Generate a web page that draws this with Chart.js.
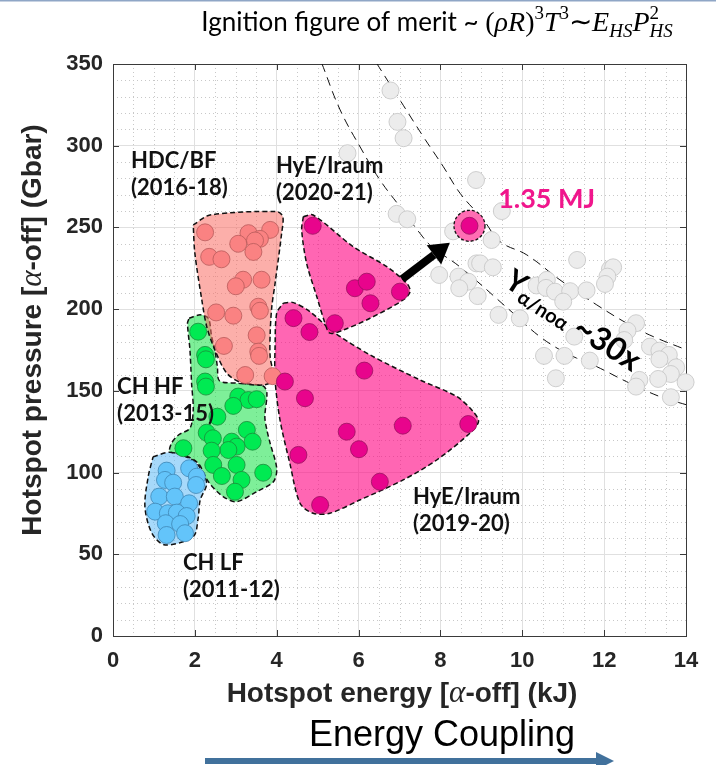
<!DOCTYPE html>
<html>
<head>
<meta charset="utf-8">
<script src="https://cdn.jsdelivr.net/npm/chart.js@4.4.1/dist/chart.umd.min.js"></script>
<style>
  html, body { margin: 0; padding: 0; background: #fff; }
</style>
</head>
<body>
<canvas id="chart" width="716" height="765"></canvas>
<script>
// hotspot energy (kJ) vs hotspot pressure (Gbar), alpha-off
const xTicks = [0, 2, 4, 6, 8, 10, 12, 14];
const yTicks = [0, 50, 100, 150, 200, 250, 300, 350];

const chLF = [[1.86, 102.6], [1.31, 101.2], [1.27, 95.5], [1.47, 93.8], [2.05, 97.5], [2.03, 92.4],
  [1.13, 85.3], [1.51, 85.3], [1.86, 81.2], [1.03, 76.1], [1.34, 75.1], [1.56, 75.5], [1.80, 73.4],
  [1.29, 69.0], [1.64, 68.5], [1.76, 62.9], [1.31, 61.8]];

const chHF = [[2.08, 186.2], [2.25, 172], [2.27, 169.3], [2.25, 155.7], [2.27, 152.6], [3.06, 146.5],
  [3.31, 144.4], [3.51, 144.9], [2.94, 140.8], [2.55, 134.2], [3.27, 126.1], [2.29, 124.4], [2.44, 121],
  [3.41, 118.9], [2.9, 118.9], [3.02, 115.9], [2.82, 113.8], [2.41, 113.4], [1.72, 114.9], [2.45, 104.7],
  [3.02, 104.7], [2.66, 97.9], [3.14, 95.5], [3.67, 99.9], [2.98, 88.3]];

const hdcBF = [[2.25, 247], [3.31, 246.5], [3.84, 248.5], [3.06, 240], [3.59, 243], [3.47, 242],
  [3.43, 235], [2.35, 232], [2.65, 230.5], [3.18, 218], [3.0, 214], [3.63, 218], [2.52, 198], [2.94, 196],
  [3.55, 201.5], [3.59, 199], [3.51, 184], [2.71, 177.5], [3.55, 174], [3.57, 171.4], [3.23, 159.7], [3.9, 159]];

const hyE1920 = [[4.41, 194.5], [4.8, 186], [6.14, 162.4], [4.2, 155.7], [4.69, 145.5], [5.71, 125],
  [7.08, 128.7], [8.68, 129.7], [6.01, 114.3], [4.53, 110.8], [6.52, 94.4], [5.06, 80.2]];

const hyE2021 = [[4.88, 251], [5.91, 212.8], [6.2, 216.8], [6.29, 203.6], [7.01, 210.7], [5.42, 191.4]];

const shot135 = [[8.71, 251]];

// projected alpha-on shots (grey)
const alphaOn = [[6.78, 333.8], [6.95, 314.6], [7.1, 304.6], [5.73, 295.4], [8.87, 279], [6.93, 258.3],
  [7.19, 255], [9.5, 260], [8.31, 247.6], [9.25, 242.3], [8.88, 228], [8.97, 228], [9.28, 225.6],
  [7.97, 220.9], [8.44, 219.9], [8.68, 216.8], [8.46, 212.8], [8.91, 208], [11.34, 230.1], [12.14, 224.4],
  [12.22, 225.6], [12.08, 219.9], [12.02, 215.4], [10.35, 214.5], [10.6, 217.9], [10.58, 213], [10.8, 210.7],
  [11.17, 211], [11.57, 211.5], [11.0, 204.6], [9.42, 196.5], [9.94, 194.4], [11.27, 183.2], [10.53, 171.4],
  [11.03, 171.4], [11.65, 168.5], [10.82, 157.7], [12.78, 191.4], [12.57, 186.8], [12.49, 181.1],
  [13.12, 177.1], [13.35, 174.6], [13.58, 172], [13.35, 169.3], [13.76, 164.4], [13.63, 160.3],
  [13.99, 155.3], [13.32, 157.3], [12.86, 156.7], [12.78, 152.6], [13.63, 146.1]];

// outlines around each campaign
const chLFOutline = [[0.98, 109.7], [1.39, 112.4], [1.88, 108.7], [2.08, 104.7], [2.29, 93.5], [2.13, 83.2],
  [2.08, 72], [1.96, 60.8], [1.27, 55.7], [0.95, 62.9], [0.78, 79.1], [0.86, 97.5]];

const chHFOutline = [[1.86, 194.4], [2.13, 196.5], [2.33, 194.4], [2.41, 183.2], [2.49, 175], [2.55, 164.8],
  [2.6, 156.2], [3.02, 154.7], [3.67, 153], [3.76, 148.5], [3.71, 134.2], [3.76, 126.1], [3.84, 117.9],
  [4.0, 102.6], [3.92, 94.4], [3.51, 88.3], [3.02, 82.2], [2.69, 85.3], [2.33, 94.4], [2.08, 105.7],
  [1.68, 111.4], [1.39, 112.8], [1.43, 117.9], [1.6, 123], [1.88, 127.1], [1.96, 138.3], [1.92, 154.7],
  [1.88, 175], [1.82, 191.4]];

const hdcBFOutline = [[1.96, 251.5], [2.37, 257.6], [4.0, 259.7], [4.15, 256.6], [4.12, 246.4], [3.96, 215.8],
  [3.88, 201.5], [3.84, 185.3], [3.84, 170.9], [3.92, 156.7], [3.67, 153.6], [3.14, 155], [2.78, 160.8],
  [2.49, 175], [2.29, 189.3], [2.17, 205.6], [2.0, 234.2]];

const hyE1920Outline = [[4.16, 203.6], [4.41, 204], [4.81, 198.5], [5.38, 186.2], [6.28, 172], [7.5, 156.7],
  [8.4, 146.5], [8.8, 137.3], [8.93, 131.2], [8.72, 124.1], [7.91, 107.7], [7.09, 95.5], [6.03, 83.2],
  [5.3, 75.1], [4.89, 75.1], [4.57, 81.2], [4.32, 105.7], [4.08, 132.2], [3.96, 156.7], [3.96, 177], [4.0, 197.5]];

const hyE2021Outline = [[4.65, 256.6], [4.89, 257.6], [5.87, 238.2], [6.69, 226], [7.18, 215.8], [7.26, 210.7],
  [7.09, 205.6], [6.28, 194.4], [5.63, 187.3], [5.3, 185.3], [5.18, 191.4], [4.98, 207.6], [4.73, 228.1], [4.61, 248.5]];

// constant-yield guide curves
const lowerCurve = [[5.10, 350.5], [5.55, 321.9], [6.08, 297.4], [6.52, 279.1], [7.01, 262.7], [7.50, 246.4],
  [7.79, 238.2], [8.48, 225.8], [9.77, 197.7], [10.43, 183.2], [11.08, 173.0], [11.82, 164.8], [12.55, 155.6],
  [13.36, 146.5], [14.02, 141.4]];
const upperCurve = [[6.44, 350.5], [7.01, 328], [7.58, 305.6], [8.07, 287.2], [8.48, 270.9], [9.05, 254.6],
  [9.46, 241.3], [10.11, 233.2], [10.92, 217.9], [11.82, 202.6], [12.63, 190.3], [13.2, 183.2], [14.02, 175]];

// arrow from the 2020-21 campaign to the 1.35 MJ shot
const arrowFrom = [7.06, 218.3];
const arrowTo = [8.23, 240.6];

const groupLabels = [
  { lines: ['HDC/BF', '(2016-18)'], at: [0.44, 290.7] },
  { lines: ['HyE/Iraum', '(2020-21)'], at: [3.98, 287.6] },
  { lines: ['CH HF', '(2013-15)'], at: [0.1, 152.4] },
  { lines: ['CH LF', '(2011-12)'], at: [1.71, 44.7] },
  { lines: ['HyE/Iraum', '(2019-20)'], at: [7.33, 85.1] }
];

const toXY = list => list.map(([x, y]) => ({ x, y }));
const closed = list => toXY(list.concat([list[0]]));

function region(label, outline, fill, order) {
  return {
    label, data: closed(outline), showLine: true, fill: 'shape',
    backgroundColor: fill, borderColor: '#111', borderWidth: 1.5, borderDash: [5, 3],
    pointRadius: 0, tension: 0.3, order
  };
}

function shots(label, list, fill, edge, order) {
  return {
    label, data: toXY(list), showLine: false, pointRadius: 8.5,
    pointBackgroundColor: fill, pointBorderColor: edge, pointBorderWidth: 0.8, order
  };
}

function guide(label, list) {
  return {
    label, data: toXY(list), showLine: true, fill: false, borderColor: '#111',
    borderWidth: 1, borderDash: [9, 6], pointRadius: 0, tension: 0.4, order: 10
  };
}

const greyShots = shots('alpha-on', alphaOn, '#ececec', '#c4c4c4', 9);
greyShots.clip = false;

const SANS = '"Liberation Sans", Arial, sans-serif';
const LABEL = 'Lato, "Open Sans", sans-serif';
const SERIF = '"Liberation Serif", serif';

function drawRuns(ctx, runs, x, y, align) {
  let total = 0;
  runs.forEach(r => { ctx.font = r[1]; if (!r[3]) total += ctx.measureText(r[0]).width; });
  let cx = align === 'center' ? x - total / 2 : x;
  runs.forEach(r => {
    ctx.font = r[1];
    ctx.fillText(r[0], cx, y + (r[2] || 0));
    if (!r[3]) cx += ctx.measureText(r[0]).width;
  });
}

const decor = {
  id: 'decor',
  beforeDatasetsDraw(chart) {
    const { ctx, chartArea: a, scales: { x, y } } = chart;
    ctx.save();
    // minor dotted grid
    ctx.strokeStyle = '#c8c8c8';
    ctx.lineWidth = 1;
    ctx.setLineDash([1, 3]);
    for (let v = 0.5; v < 14; v += 0.5) {
      if (v % 2 === 0) continue;
      const px = Math.round(x.getPixelForValue(v)) + 0.5;
      ctx.beginPath(); ctx.moveTo(px, a.top); ctx.lineTo(px, a.bottom); ctx.stroke();
    }
    for (let v = 10; v < 350; v += 10) {
      if (v % 50 === 0) continue;
      const py = Math.round(y.getPixelForValue(v)) + 0.5;
      ctx.beginPath(); ctx.moveTo(a.left, py); ctx.lineTo(a.right, py); ctx.stroke();
    }
    ctx.setLineDash([]);
    // box and inward ticks
    ctx.strokeStyle = '#3a3a3a';
    ctx.strokeRect(Math.round(a.left) + 0.5, Math.round(a.top) + 0.5, Math.round(a.right - a.left), Math.round(a.bottom - a.top));
    ctx.beginPath();
    xTicks.forEach(v => {
      const px = Math.round(x.getPixelForValue(v)) + 0.5;
      ctx.moveTo(px, a.bottom); ctx.lineTo(px, a.bottom - 6);
      ctx.moveTo(px, a.top); ctx.lineTo(px, a.top + 6);
    });
    yTicks.forEach(v => {
      const py = Math.round(y.getPixelForValue(v)) + 0.5;
      ctx.moveTo(a.left, py); ctx.lineTo(a.left + 6, py);
      ctx.moveTo(a.right, py); ctx.lineTo(a.right - 6, py);
    });
    ctx.stroke();
    ctx.restore();
  },
  afterDatasetDraw(chart, args) {
    if (chart.data.datasets[args.index].label !== 'alpha-on') return;
    // halo behind the 1.35 MJ shot
    const { ctx, scales: { x, y } } = chart;
    const px = x.getPixelForValue(shot135[0][0]);
    const py = y.getPixelForValue(shot135[0][1]);
    ctx.save();
    ctx.beginPath();
    ctx.arc(px, py, 15.5, 0, Math.PI * 2);
    ctx.fillStyle = '#ff6db3';
    ctx.fill();
    ctx.setLineDash([3, 2]);
    ctx.lineWidth = 1.3;
    ctx.strokeStyle = '#111';
    ctx.stroke();
    ctx.restore();
  },
  afterDraw(chart) {
    const { ctx, chartArea: a, scales: { x, y } } = chart;
    ctx.save();

    // thin rule along the top edge
    ctx.strokeStyle = '#8fa6c6';
    ctx.lineWidth = 1.5;
    ctx.beginPath(); ctx.moveTo(0, 0.75); ctx.lineTo(chart.width, 0.75); ctx.stroke();

    // arrow towards the 1.35 MJ shot
    const x0 = x.getPixelForValue(arrowFrom[0]), y0 = y.getPixelForValue(arrowFrom[1]);
    const x1 = x.getPixelForValue(arrowTo[0]), y1 = y.getPixelForValue(arrowTo[1]);
    const ang = Math.atan2(y1 - y0, x1 - x0);
    const head = 20, half = 12;
    const bx = x1 - head * Math.cos(ang), by = y1 - head * Math.sin(ang);
    ctx.strokeStyle = '#000';
    ctx.lineWidth = 8;
    ctx.beginPath(); ctx.moveTo(x0, y0); ctx.lineTo(bx, by); ctx.stroke();
    ctx.fillStyle = '#000';
    ctx.beginPath();
    ctx.moveTo(x1, y1);
    ctx.lineTo(bx - half * Math.sin(ang), by + half * Math.cos(ang));
    ctx.lineTo(bx + half * Math.sin(ang), by - half * Math.cos(ang));
    ctx.closePath(); ctx.fill();

    // campaign labels
    ctx.fillStyle = '#111';
    ctx.textBaseline = 'middle';
    ctx.textAlign = 'left';
    ctx.font = `bold 22px ${LABEL}`;
    groupLabels.forEach(g => {
      const px = x.getPixelForValue(g.at[0]), py = y.getPixelForValue(g.at[1]);
      g.lines.forEach((t, i) => ctx.fillText(t, px, py + i * 27));
    });

    ctx.fillStyle = '#f0168c';
    ctx.font = `bold 27px ${LABEL}`;
    ctx.fillText('1.35 MJ', x.getPixelForValue(9.41), y.getPixelForValue(267));

    // yield gain note along the guide curves
    ctx.save();
    ctx.translate(x.getPixelForValue(9.65), y.getPixelForValue(219.5));
    ctx.rotate(33 * Math.PI / 180);
    ctx.fillStyle = '#000';
    ctx.textBaseline = 'middle';
    drawRuns(ctx, [
      ['Y', `bold 30px ${LABEL}`, 0],
      ['α/noα', `bold 20px ${LABEL}`, 9],
      [' ~30x', `bold 32px ${LABEL}`, 2]
    ], 0, 0, 'left');
    ctx.restore();

    // figure title
    ctx.fillStyle = '#000';
    ctx.textBaseline = 'alphabetic';
    const big = `28px ${SERIF}`, bigI = `italic 28px ${SERIF}`, sm = `19px ${SERIF}`, smI = `italic 19px ${SERIF}`;
    drawRuns(ctx, [
      ['Ignition figure of merit ~ ', `26px ${LABEL}`],
      ['(', big], ['ρR', bigI], [')', big], ['3', sm, -12],
      ['T', bigI], ['3', sm, -12], ['∼', big],
      ['E', bigI], ['HS', smI, 6],
      ['P', bigI], ['2', sm, -12, true], ['HS', smI, 6]
    ], 437, 31, 'center');

    // axis titles
    ctx.fillStyle = '#262626';
    ctx.textBaseline = 'middle';
    const axB = `bold 28px ${SANS}`, axI = `italic 31px ${SERIF}`;
    drawRuns(ctx, [['Hotspot energy [', axB], ['α', axI], ['-off] (kJ)', axB]], 402, 694, 'center');
    ctx.save();
    ctx.translate(33, 330);
    ctx.rotate(-Math.PI / 2);
    drawRuns(ctx, [['Hotspot pressure [', axB], ['α', axI], ['-off] (Gbar)', axB]], 0, 0, 'center');
    ctx.restore();

    // energy coupling note
    ctx.fillStyle = '#000';
    ctx.textAlign = 'center';
    ctx.textBaseline = 'alphabetic';
    ctx.font = `36px ${SANS}`;
    ctx.fillText('Energy Coupling', 442, 746);
    ctx.strokeStyle = '#41719c';
    ctx.fillStyle = '#41719c';
    ctx.lineWidth = 6;
    ctx.beginPath(); ctx.moveTo(205, 761); ctx.lineTo(598, 761); ctx.stroke();
    ctx.beginPath(); ctx.moveTo(614, 761); ctx.lineTo(596, 752); ctx.lineTo(596, 770); ctx.closePath(); ctx.fill();

    ctx.restore();
  }
};

new Chart(document.getElementById('chart'), {
  type: 'scatter',
  data: {
    datasets: [
      region('CH LF region', chLFOutline, 'rgba(95,185,245,0.55)', 20),
      region('CH HF region', chHFOutline, 'rgba(20,225,70,0.55)', 19),
      region('HDC/BF region', hdcBFOutline, 'rgba(250,110,100,0.55)', 18),
      region('HyE 2019-20 region', hyE1920Outline, 'rgba(255,0,128,0.6)', 17),
      region('HyE 2020-21 region', hyE2021Outline, 'rgba(255,0,128,0.6)', 16),
      shots('CH LF (2011-12)', chLF, '#63c4fa', '#3f87b5', 15),
      shots('CH HF (2013-15)', chHF, '#00ea52', '#1a8a3a', 14),
      shots('HDC/BF (2016-18)', hdcBF, '#fa8282', '#b85a5a', 13),
      shots('HyE/Iraum (2019-20)', hyE1920, '#e8048c', '#9a1060', 12),
      shots('HyE/Iraum (2020-21)', hyE2021, '#e8048c', '#9a1060', 11),
      guide('lower yield curve', lowerCurve),
      guide('upper yield curve', upperCurve),
      greyShots,
      shots('1.35 MJ', shot135, '#e8048c', '#9a1060', 1)
    ]
  },
  options: {
    responsive: false,
    animation: false,
    events: [],
    layout: { padding: { top: 64, right: 30, left: 0, bottom: 0 } },
    plugins: { legend: { display: false }, tooltip: { enabled: false } },
    scales: {
      x: {
        type: 'linear',
        min: xTicks[0], max: xTicks[xTicks.length - 1],
        afterBuildTicks: s => { s.ticks = xTicks.map(v => ({ value: v })); },
        afterFit: s => { s.height = 129; },
        ticks: { font: { family: SANS, size: 22, weight: 'bold' }, color: '#262626', padding: 12 },
        grid: { color: '#e0e0e0', lineWidth: 1, drawTicks: false },
        border: { color: '#3a3a3a', width: 1 }
      },
      y: {
        type: 'linear',
        min: yTicks[0], max: yTicks[yTicks.length - 1],
        afterBuildTicks: s => { s.ticks = yTicks.map(v => ({ value: v })); },
        afterFit: s => { s.width = 113; },
        ticks: { font: { family: SANS, size: 22, weight: 'bold' }, color: '#262626', padding: 10 },
        grid: { color: '#e0e0e0', lineWidth: 1, drawTicks: false },
        border: { color: '#3a3a3a', width: 1 }
      }
    }
  },
  plugins: [decor]
});
</script>
</body>
</html>
